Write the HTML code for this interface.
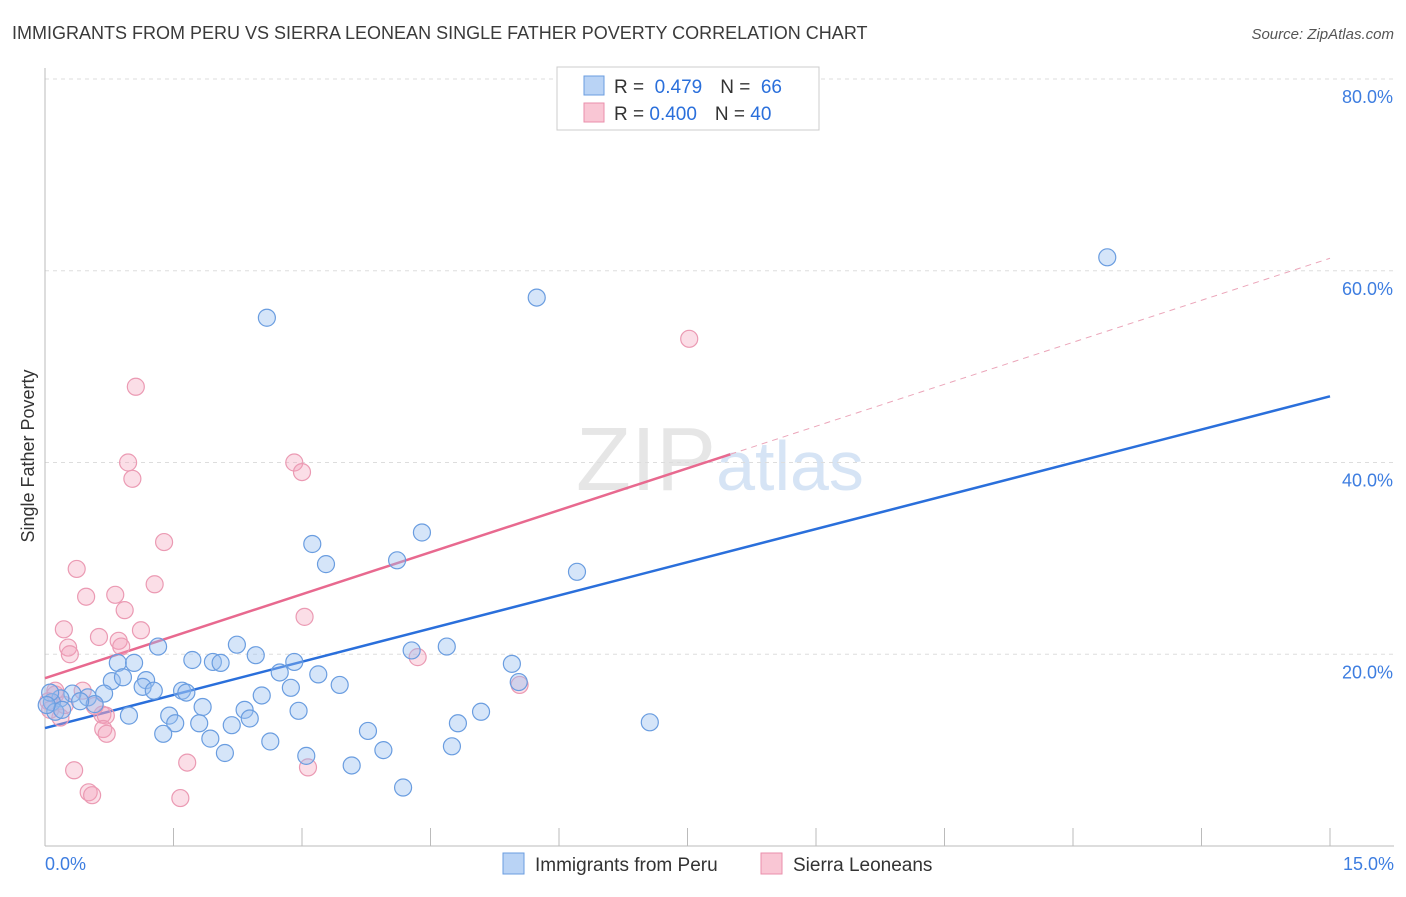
<!DOCTYPE html>
<html><head><meta charset="utf-8"><style>
body{margin:0;background:#fff;font-family:"Liberation Sans",sans-serif;}
svg text{font-family:"Liberation Sans",sans-serif;}
</style></head><body>
<svg id="chart" width="1406" height="892" xmlns="http://www.w3.org/2000/svg">
<text x="12" y="39" font-size="18" fill="#3a3a3a">IMMIGRANTS FROM PERU VS SIERRA LEONEAN SINGLE FATHER POVERTY CORRELATION CHART</text>
<text x="1394" y="39" font-size="15" fill="#555" text-anchor="end" font-style="italic">Source: ZipAtlas.com</text>
<text x="720" y="490" font-size="90" fill="#e6e6e6" text-anchor="middle" font-family="Liberation Serif">ZIP<tspan fill="#d6e4f5" font-family="Liberation Sans" font-size="70">atlas</tspan></text>
<g id="grid"></g>
<g id="axes"></g>
<g id="lines"></g>
<g id="pts"></g>
<text transform="translate(34,456) rotate(-90)" font-size="18" fill="#333" text-anchor="middle">Single Father Poverty</text>
<g>
<rect x="557" y="67" width="262" height="63" fill="#fff" stroke="#ccc"/>
<rect x="584" y="76" width="20" height="19" fill="#b9d3f5" stroke="#6a9de0"/>
<rect x="584" y="103" width="20" height="19" fill="#f9c6d4" stroke="#ea8fab"/>
<text x="614" y="93" font-size="19" fill="#333">R = <tspan fill="#2a6fdb">&#160;0.479</tspan><tspan dx="18">N = </tspan><tspan fill="#2a6fdb">&#160;66</tspan></text>
<text x="614" y="120" font-size="19" fill="#333">R = <tspan fill="#2a6fdb">0.400</tspan><tspan dx="18">N = </tspan><tspan fill="#2a6fdb">40</tspan></text>
</g>
<g>
<rect x="503" y="853" width="21" height="21" fill="#b9d3f5" stroke="#6a9de0"/>
<text x="535" y="871" font-size="19" fill="#333">Immigrants from Peru</text>
<rect x="761" y="853" width="21" height="21" fill="#f9c6d4" stroke="#ea8fab"/>
<text x="793" y="871" font-size="19" fill="#333">Sierra Leoneans</text>
</g>
</svg>
<script>
const xTicks=[0,1.5,3,4.5,6,7.5,9,10.5,12,13.5,15];
const yTicks=[20,40,60,80];
const yTickLabels=["20.0%","40.0%","60.0%","80.0%"];
const xEndLabels=["0.0%","15.0%"];
const peruX=[2.59,5.74,12.4,3.12,3.28,4.4,4.11,6.21,1.32,2.24,2.46,1.72,1.96,2.05,2.91,0.85,1.04,4.69,4.28,5.45,0.78,0.91,1.18,1.14,1.27,1.6,1.65,2.74,3.19,2.87,3.44,5.53,0.69,0.5,0.32,0.18,0.08,0.58,2.53,1.84,1.45,0.98,2.96,2.33,2.39,1.52,1.8,2.18,4.82,5.09,7.06,1.38,1.93,3.77,2.63,2.1,3.05,3.95,4.75,3.58,4.18,0.12,0.2,0.06,0.41,0.02];
const peruY=[55.1,57.2,61.4,31.5,29.4,32.7,29.8,28.6,20.8,21.0,19.9,19.4,19.2,19.1,19.2,19.1,19.1,20.8,20.4,19.0,17.2,17.6,17.3,16.6,16.2,16.2,16.0,18.1,17.9,16.5,16.8,17.1,15.9,15.5,15.9,15.4,15.0,14.8,15.7,14.5,13.6,13.6,14.1,14.2,13.3,12.8,12.8,12.6,12.8,14.0,12.9,11.7,11.2,12.0,10.9,9.7,9.4,10.0,10.4,8.4,6.1,14.0,14.2,16.0,15.1,14.7];
const sierraX=[7.52,1.06,0.97,2.91,1.02,3.0,1.39,0.37,1.28,0.48,0.82,0.93,3.03,1.12,0.22,0.63,0.86,0.27,0.89,0.29,4.35,5.54,0.44,0.12,0.04,0.67,0.71,0.68,0.72,0.34,1.66,0.51,0.55,1.58,3.07,0.18,0.06,0.23,0.12,0.58];
const sierraY=[52.9,47.9,40.0,40.0,38.3,39.0,31.7,28.9,27.3,26.0,26.2,24.6,23.9,22.5,22.6,21.8,21.4,20.7,20.8,20.0,19.7,16.8,16.2,15.8,15.1,13.7,13.6,12.2,11.7,7.9,8.7,5.6,5.3,5.0,8.2,13.4,14.2,14.7,16.2,14.6];
const peruLine=[12.3,46.9];   // y at x=0 and x=15
const sierraLine=[17.5,61.3]; // y at x=0 and x=15
const sierraSolidEnd=8.0;
const X0=45,X1=1330,Y0=846,Y80=79;
const sx=v=>X0+(v-0)/15*(X1-X0);
const sy=v=>Y0-v/80*(Y0-Y80);
const NS="http://www.w3.org/2000/svg";
function mk(parent,tag,attrs){const e=document.createElementNS(NS,tag);for(const k in attrs)e.setAttribute(k,attrs[k]);document.getElementById(parent).appendChild(e);return e;}
yTicks.forEach((t,i)=>{
 const g=mk('grid','line',{x1:45,x2:1394,y1:sy(t),y2:sy(t),stroke:'#ddd','stroke-dasharray':'4,4'});
 
 
 const tx=mk('axes','text',{x:1393,y:sy(t)+24,'font-size':18,fill:'#3d7de0','text-anchor':'end'});
 tx.textContent=yTickLabels[i];
 
 
});
const ax=mk('axes','line',{x1:45,x2:1394,y1:846,y2:846,stroke:'#bbb'});


const ay=mk('axes','line',{x1:45,x2:45,y1:68,y2:846,stroke:'#bbb'});


xTicks.forEach(t=>{const l=mk('axes','line',{x1:sx(t),x2:sx(t),y1:828,y2:846,stroke:'#bbb'});
 
 });
const xl0=mk('axes','text',{x:45,y:870,'font-size':18,fill:'#3d7de0'});xl0.textContent=xEndLabels[0];


const xl1=mk('axes','text',{x:1394,y:870,'font-size':18,fill:'#3d7de0','text-anchor':'end'});xl1.textContent=xEndLabels[1];


sierraX.forEach((x,i)=>{const c=mk('pts','circle',{cx:sx(x),cy:sy(sierraY[i]),r:8.5,fill:'rgba(244,160,185,0.35)',stroke:'#eb9ab3','stroke-width':1.2});
 
 });
peruX.forEach((x,i)=>{const c=mk('pts','circle',{cx:sx(x),cy:sy(peruY[i]),r:8.5,fill:'rgba(150,190,240,0.4)',stroke:'#6a9de0','stroke-width':1.2});
 
 });
const lp=mk('lines','line',{x1:sx(0),y1:sy(peruLine[0]),x2:sx(15),y2:sy(peruLine[1]),stroke:'#2a6fdb','stroke-width':2.5});


const ys=sierraLine[0]+(sierraLine[1]-sierraLine[0])*sierraSolidEnd/15;
const ls=mk('lines','line',{x1:sx(0),y1:sy(sierraLine[0]),x2:sx(sierraSolidEnd),y2:sy(ys),stroke:'#e8698f','stroke-width':2.5});


const ld=mk('lines','line',{x1:sx(sierraSolidEnd),y1:sy(ys),x2:sx(15),y2:sy(sierraLine[1]),stroke:'#eba5b9','stroke-width':1,'stroke-dasharray':'6,5'});


</script>
</body></html>
